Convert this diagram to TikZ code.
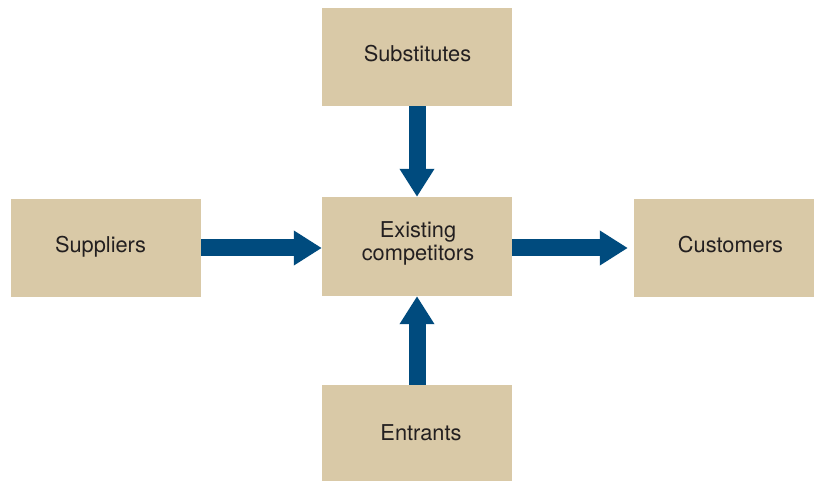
\documentclass[tikz,border=0pt]{standalone}
\usepackage{fontspec}
\setmainfont{TeX Gyre Heros}
\usetikzlibrary{arrows.meta}
\definecolor{tan}{HTML}{D9C9A7}
\definecolor{navy}{HTML}{004B7E}
\definecolor{ink}{HTML}{231F20}
\tikzset{
  box/.style={fill=tan, draw=none, inner sep=0pt},
  lbl/.style={anchor=base, inner sep=0pt, text=ink,
    font=\fontsize{21.8}{20.3}\selectfont},
  flow/.style={draw=navy, line width=17pt, -{Triangle[width=33pt,length=28pt]}, line cap=butt}
}
\begin{document}
\begin{tikzpicture}[x=1pt,y=-1pt]
\useasboundingbox (0,0) rectangle (814,481);
\node[box, minimum width=190pt, minimum height=98pt] (sub) at (417,57) {};
\node[box, minimum width=190pt, minimum height=99pt] (exi) at (417,246.5) {};
\node[box, minimum width=190pt, minimum height=98pt] (sup) at (106,248) {};
\node[box, minimum width=180pt, minimum height=98pt] (cus) at (724,248) {};
\node[box, minimum width=190pt, minimum height=96pt] (ent) at (417,433) {};
\node[lbl] (tsub) at (417.5,61.5) {Substitutes};
\node[lbl] (texi1) at (418,237) {Existing};
\node[lbl] (texi2) at (418,260) {competitors};
\node[lbl] (tsup) at (100.5,253) {Suppliers};
\node[lbl] (tcus) at (730.5,253) {Customers};
\node[lbl] (tent) at (421,440) {Entrants};
\draw[flow] (sub.south) -- (exi.north);
\draw[flow] (ent.north) -- (exi.south);
\draw[flow] (sup.east) -- (sup.east -| exi.west);
\draw[flow, shorten >=6pt] (sup.east -| exi.east) -- (sup.east -| cus.west);
\end{tikzpicture}
\end{document}
